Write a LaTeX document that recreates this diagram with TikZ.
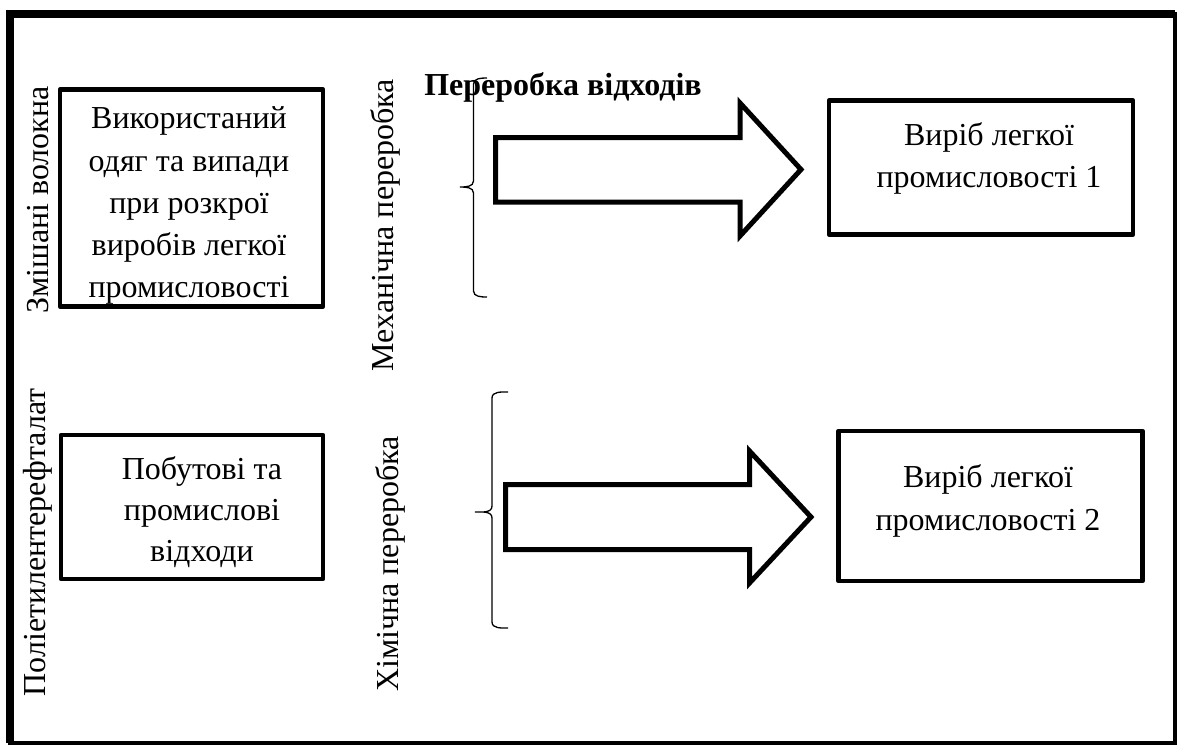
\documentclass[tikz,border=0pt]{standalone}
\usepackage{fontspec}
\setmainfont{Liberation Serif}
\begin{document}
\begin{tikzpicture}[x=1pt,y=-1pt,
  box/.style={draw, line width=4.5pt, line join=round, inner sep=0pt},
  txt/.style={align=center, inner sep=0pt, font=\fontsize{32}{42}\selectfont},
  side/.style={rotate=90, inner sep=0pt, font=\fontsize{32}{38}\selectfont},
  blockarrow/.style={draw, line width=5pt, line join=miter, fill=white},
  bracepath/.style={line width=1.3pt},
]
\useasboundingbox (0,0) rectangle (1178,745);
% outer frame: heavier on the top and left sides
\draw[line width=4pt] (10,14) rectangle (1175,743);
\draw[line width=8pt] (10,743) -- (10,14) -- (1175,14);

% boxes
\node[box, minimum width=263pt, minimum height=217pt] (src1) at (191.5,198) {};
\node[box, minimum width=262pt, minimum height=144pt] (src2) at (192,507) {};
\node[box, minimum width=304pt, minimum height=134pt] (out1) at (981,167.5) {};
\node[box, minimum width=304pt, minimum height=150pt] (out2) at (990.5,506) {};

% box texts
\node[txt, font=\fontsize{32}{42.25}\selectfont] (t1) at (189,205.8) {Використаний\\одяг та випади\\при розкрої\\виробів легкої\\промисловості};
\node[txt, font=\fontsize{32}{41}\selectfont] (t2) at (202,512.3) {Побутові та\\промислові\\відходи};
\node[txt, font=\fontsize{32}{41.7}\selectfont] (t3) at (989,158.3) {Виріб легкої\\промисловості 1};
\node[txt, font=\fontsize{32}{43}\selectfont] (t4) at (988,500.8) {Виріб легкої\\промисловості 2};

% side labels
\node[side] (l1) at (38,200) {Змішані волокна};
\node[side] (l2) at (385,225) {Механічна переробка};
\node[side] (l3) at (390,564) {Хімічна переробка};
\node[side] (l4) at (38,542.5) {Поліетилентерефталат};
\node[font=\bfseries\fontsize{32}{38}\selectfont, inner sep=0pt] (title) at (563,87.3) {Переробка відходів};

% block arrows
\draw[blockarrow] (495.5,137.5) -- (740,137.5) -- (740,103) -- (801,169.5) -- (740,236) -- (740,202) -- (495.5,202) -- cycle;
\draw[blockarrow] (505.5,484.5) -- (749.5,484.5) -- (749.5,451) -- (811,517) -- (749.5,583) -- (749.5,549.5) -- (505.5,549.5) -- cycle;

% braces
\draw[bracepath] (487,78) to[out=180,in=90] (473.5,84) -- (473.5,181) to[out=270,in=0] (460,187)
  to[out=0,in=90] (473.5,193) -- (473.5,291) to[out=270,in=180] (487,297);
\draw[bracepath] (508,392) to[out=180,in=90] (492,398) -- (492,506) to[out=270,in=0] (475,512)
  to[out=0,in=90] (492,518) -- (492,622) to[out=270,in=180] (508,628);
\end{tikzpicture}
\end{document}
